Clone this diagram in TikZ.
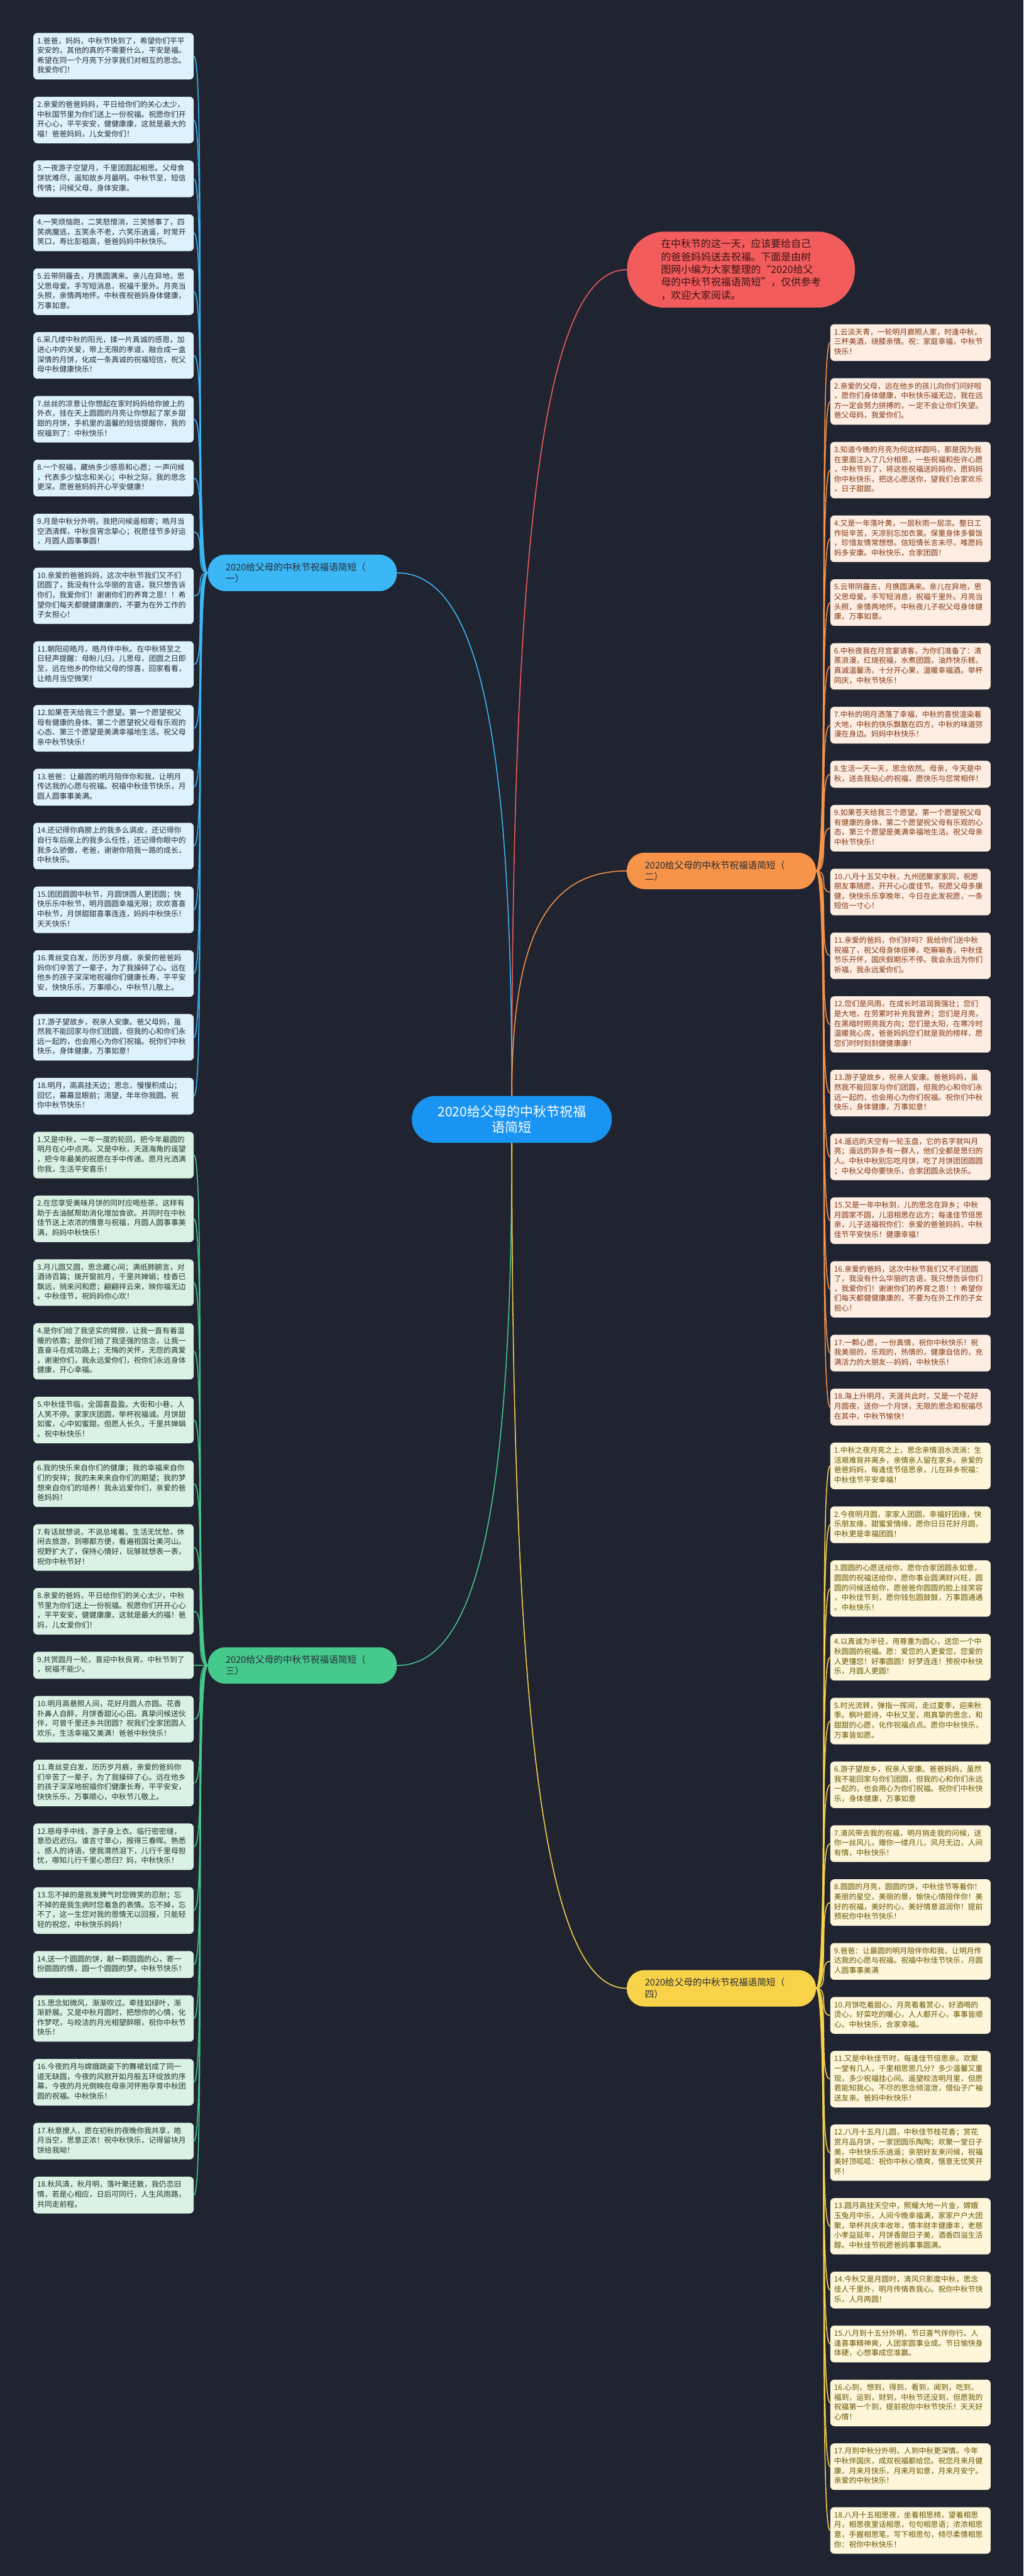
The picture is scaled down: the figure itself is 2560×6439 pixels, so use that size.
\documentclass[tikz,border=0pt]{standalone}
\usepackage{fontspec}
\setmainfont{Noto Sans CJK SC}
\usetikzlibrary{positioning,calc}
\definecolor{bgc}{RGB}{32,36,48}
\definecolor{cblue}{RGB}{26,148,242}
\definecolor{bluebr}{RGB}{60,183,246}
\definecolor{blueleaf}{RGB}{221,242,252}
\definecolor{bluetext}{RGB}{40,44,52}
\definecolor{cred}{RGB}{242,92,92}
\definecolor{redtext}{RGB}{60,20,20}
\definecolor{corange}{RGB}{247,148,74}
\definecolor{orleaf}{RGB}{253,237,227}
\definecolor{ortext}{RGB}{130,56,18}
\definecolor{cgreen}{RGB}{70,201,140}
\definecolor{grleaf}{RGB}{218,242,230}
\definecolor{grtext}{RGB}{36,52,44}
\definecolor{cyellow}{RGB}{248,211,74}
\definecolor{yeleaf}{RGB}{253,246,219}
\definecolor{yetext}{RGB}{105,86,0}
\definecolor{brtext}{RGB}{40,44,52}
\newcommand{\lftxt}[1]{\strut#1\strut}
\tikzset{
  leaf/.style={rounded corners=5pt, text width=191pt, inner xsep=4.75pt, inner ysep=4.575pt,
    align=left, font=\fontsize{9.3pt}{12.25pt}\selectfont},
  leafA/.style={leaf, fill=blueleaf, text=bluetext},
  leafB/.style={leaf, fill=orleaf, text=ortext},
  leafC/.style={leaf, fill=grleaf, text=grtext},
  leafD/.style={leaf, fill=yeleaf, text=yetext},
  branch/.style={rounded corners=22pt, text width=191.5pt, inner xsep=22.5pt, inner ysep=8.25pt,
    align=left, text=brtext, font=\fontsize{11.5pt}{14.5pt}\selectfont, minimum height=45.5pt},
  lnA/.style={bluebr, line width=1.2pt},
  lnB/.style={corange, line width=1.2pt},
  lnC/.style={cgreen, line width=1.2pt},
  lnD/.style={cyellow, line width=1.2pt},
  lnR/.style={cred, line width=1.2pt},
}
\begin{document}
\begin{tikzpicture}[x=0.5pt,y=-0.5pt]
\path[use as bounding box, fill=bgc] (0,0) rectangle (2560,6439);

% centre and main branches
\node[rounded corners=29pt, fill=cblue, text=white, minimum width=250pt, minimum height=58.5pt,
  align=center, font=\fontsize{16.5pt}{19pt}\selectfont] (C) at (1280,2798) {2020给父母的中秋节祝福\\语简短};
\node[rounded corners=47pt, fill=cred, text=redtext, minimum width=285pt, minimum height=95pt,
  align=left, font=\fontsize{12.5pt}{16pt}\selectfont] (R) at (1853,674)
  {在中秋节的这一天，应该要给自己\\的爸爸妈妈送去祝福。下面是由树\\图网小编为大家整理的“2020给父\\母的中秋节祝福语简短”，仅供参考\\，欢迎大家阅读。};
\node[branch, fill=bluebr] (BA) at (756,1432) {2020给父母的中秋节祝福语简短（\\一）};
\node[branch, fill=corange] (BB) at (1804,2177) {2020给父母的中秋节祝福语简短（\\二）};
\node[branch, fill=cgreen] (BC) at (756,4163) {2020给父母的中秋节祝福语简短（\\三）};
\node[branch, fill=cyellow] (BD) at (1804,4970) {2020给父母的中秋节祝福语简短（\\四）};

% ---------- left column: (一)
\node[leafA, anchor=north west] (a1) at (83,82) {\lftxt{1.爸爸，妈妈，中秋节快到了，希望你们平平\\安安的，其他的真的不需要什么，平安是福。\\希望在同一个月亮下分享我们对相互的思念。\\我爱你们！}};
\node[leafA, below=21.15pt of a1] (a2) {\lftxt{2.亲爱的爸爸妈妈，平日给你们的关心太少，\\中秋国节里为你们送上一份祝福。祝愿你们开\\开心心，平平安安，健健康康，这就是最大的\\福！爸爸妈妈，儿女爱你们！}};
\node[leafA, below=21.15pt of a2] (a3) {\lftxt{3.一夜游子空望月，千里团圆起相思。父母食\\饼犹难尽，遥知故乡月最明。中秋节至，短信\\传情；问候父母，身体安康。}};
\node[leafA, below=21.15pt of a3] (a4) {\lftxt{4.一笑烦恼跑，二笑怒憎消，三笑憾事了，四\\笑病魔逃，五笑永不老，六笑乐逍遥，时常开\\笑口，寿比彭祖高，爸爸妈妈中秋快乐。}};
\node[leafA, below=21.15pt of a4] (a5) {\lftxt{5.云带阴霾去，月携圆满来。亲儿在异地，思\\父思母爱。手写短消息，祝福千里外。月亮当\\头照，亲情两地怀。中秋夜祝爸妈身体健康，\\万事如意。}};
\node[leafA, below=21.15pt of a5] (a6) {\lftxt{6.采几缕中秋的阳光，揉一片真诚的感恩，加\\进心中的关爱，带上无限的孝道，融合成一盒\\深情的月饼，化成一条真诚的祝福短信，祝父\\母中秋健康快乐！}};
\node[leafA, below=21.15pt of a6] (a7) {\lftxt{7.丝丝的凉意让你想起在家时妈妈给你披上的\\外衣，挂在天上圆圆的月亮让你想起了家乡甜\\甜的月饼，手机里的温馨的短信提醒你，我的\\祝福到了：中秋快乐！}};
\node[leafA, below=21.15pt of a7] (a8) {\lftxt{8.一个祝福，藏纳多少感恩和心愿；一声问候\\，代表多少惦念和关心；中秋之际，我的思念\\更深。愿爸爸妈妈开心平安健康！}};
\node[leafA, below=21.15pt of a8] (a9) {\lftxt{9.月是中秋分外明，我把问候遥相寄；皓月当\\空洒清辉，中秋良宵念挚心；祝愿佳节多好运\\，月圆人圆事事圆！}};
\node[leafA, below=21.15pt of a9] (a10) {\lftxt{10.亲爱的爸爸妈妈，这次中秋节我们又不们\\团圆了，我没有什么华丽的言语，我只想告诉\\你们，我爱你们！谢谢你们的养育之恩！！希\\望你们每天都健健康康的，不要为在外工作的\\子女担心！}};
\node[leafA, below=21.15pt of a10] (a11) {\lftxt{11.朝阳迎皓月，皓月伴中秋。在中秋将至之\\日轻声提醒：母盼儿归，儿思母，团圆之日即\\至，远在他乡的你给父母的惊喜，回家看看，\\让皓月当空微笑！}};
\node[leafA, below=21.15pt of a11] (a12) {\lftxt{12.如果苍天给我三个愿望。第一个愿望祝父\\母有健康的身体、第二个愿望祝父母有乐观的\\心态、第三个愿望是美满幸福地生活。祝父母\\亲中秋节快乐！}};
\node[leafA, below=21.15pt of a12] (a13) {\lftxt{13.爸爸：让最圆的明月陪伴你和我，让明月\\传达我的心愿与祝福。祝福中秋佳节快乐，月\\圆人圆事事美满。}};
\node[leafA, below=21.15pt of a13] (a14) {\lftxt{14.还记得你肩膀上的我多么调皮，还记得你\\自行车后座上的我多么任性，还记得你眼中的\\我多么骄傲，老爸，谢谢你陪我一路的成长，\\中秋快乐。}};
\node[leafA, below=21.15pt of a14] (a15) {\lftxt{15.团团圆圆中秋节，月圆饼圆人更团圆；快\\快乐乐中秋节，明月圆圆幸福无限；欢欢喜喜\\中秋节，月饼甜甜喜事连连，妈妈中秋快乐！\\天天快乐！}};
\node[leafA, below=21.15pt of a15] (a16) {\lftxt{16.青丝变白发，历历岁月痕，亲爱的爸爸妈\\妈你们辛苦了一辈子，为了我操碎了心。远在\\他乡的孩子深深地祝福你们健康长寿，平平安\\安，快快乐乐，万事顺心，中秋节儿敬上。}};
\node[leafA, below=21.15pt of a16] (a17) {\lftxt{17.游子望故乡，祝亲人安康。爸父母妈，虽\\然我不能回家与你们团圆，但我的心和你们永\\远一起的，也会用心为你们祝福。祝你们中秋\\快乐，身体健康，万事如意！}};
\node[leafA, below=21.15pt of a17] (a18) {\lftxt{18.明月，高高挂天边；思念，慢慢积成山；\\回忆，幕幕显眼前；渴望，年年你我圆。祝\\你中秋节快乐！}};

% ---------- left column: (三)
\node[leafC, below=21.15pt of a18] (c1) {\lftxt{1.又是中秋，一年一度的轮回，把今年最圆的\\明月在心中点亮。又是中秋，天涯海角的遥望\\，把今年最美的祝愿在手中传递。愿月光洒满\\你我，生活平安喜乐！}};
\node[leafC, below=21.15pt of c1] (c2) {\lftxt{2.在您享受美味月饼的同时应喝些茶，这样有\\助于去油腻帮助消化增加食欲。并同时在中秋\\佳节送上浓浓的情意与祝福，月圆人圆事事美\\满，妈妈中秋快乐！}};
\node[leafC, below=21.15pt of c2] (c3) {\lftxt{3.月儿圆又圆，思念藏心间；满纸肺腑言，对\\酒诗百篇；拨开窗前月，千里共婵娟；桂香已\\飘远，捎来问和愿；翩翩祥云来，映你福无边\\。中秋佳节，祝妈妈你心欢！}};
\node[leafC, below=21.15pt of c3] (c4) {\lftxt{4.是你们给了我坚实的臂膀，让我一直有着温\\暖的依靠；是你们给了我坚强的信念，让我一\\直奋斗在成功路上；无悔的关怀，无怨的真爱\\，谢谢你们，我永远爱你们，祝你们永远身体\\健康，开心幸福。}};
\node[leafC, below=21.15pt of c4] (c5) {\lftxt{5.中秋佳节临，全国喜盈盈。大街和小巷，人\\人笑不停。家家庆团圆，举杯祝福诚。月饼甜\\如蜜，心中如蜜甜。但愿人长久，千里共婵娟\\。祝中秋快乐！}};
\node[leafC, below=21.15pt of c5] (c6) {\lftxt{6.我的快乐来自你们的健康；我的幸福来自你\\们的安祥；我的未来来自你们的期望；我的梦\\想来自你们的培养！我永远爱你们，亲爱的爸\\爸妈妈！}};
\node[leafC, below=21.15pt of c6] (c7) {\lftxt{7.有话就想说，不说总堵着。生活无忧愁，休\\闲去旅游，到哪都方便，看遍祖国壮美河山。\\视野扩大了，保持心情好，玩够就想表一表，\\祝你中秋节好！}};
\node[leafC, below=21.15pt of c7] (c8) {\lftxt{8.亲爱的爸妈，平日给你们的关心太少，中秋\\节里为你们送上一份祝福。祝愿你们开开心心\\，平平安安，健健康康，这就是最大的福！爸\\妈，儿女爱你们！}};
\node[leafC, below=21.15pt of c8] (c9) {\lftxt{9.共赏圆月一轮，喜迎中秋良宵。中秋节到了\\，祝福不能少。}};
\node[leafC, below=21.15pt of c9] (c10) {\lftxt{10.明月高悬照人间，花好月圆人亦圆。花香\\扑鼻人自醉，月饼香甜沁心田。真挚问候送伙\\伴，可曾千里还乡共团圆？祝我们全家团圆人\\欢乐，生活幸福又美满！爸爸中秋快乐！}};
\node[leafC, below=21.15pt of c10] (c11) {\lftxt{11.青丝变白发，历历岁月痕，亲爱的爸妈你\\们辛苦了一辈子，为了我操碎了心。远在他乡\\的孩子深深地祝福你们健康长寿，平平安安，\\快快乐乐，万事顺心，中秋节儿敬上。}};
\node[leafC, below=21.15pt of c11] (c12) {\lftxt{12.慈母手中线，游子身上衣。临行密密缝，\\意恐迟迟归。谁言寸草心，报得三春晖。熟悉\\、感人的诗语，使我潸然泪下，儿行千里母担\\忧，哪知儿行千里心思归？妈，中秋快乐！}};
\node[leafC, below=21.15pt of c12] (c13) {\lftxt{13.忘不掉的是我发脾气时您微笑的忍耐；忘\\不掉的是我生病时您着急的表情。忘不掉，忘\\不了，这一生您对我的恩情无以回报，只能轻\\轻的祝您，中秋快乐妈妈！}};
\node[leafC, below=21.15pt of c13] (c14) {\lftxt{14.送一个圆圆的饼，献一颗圆圆的心，寄一\\份圆圆的情，圆一个圆圆的梦。中秋节快乐！}};
\node[leafC, below=21.15pt of c14] (c15) {\lftxt{15.思念如微风，渐渐吹过。牵挂如绿叶，渐\\渐舒展。又是中秋月圆时，把想你的心情，化\\作梦呓，与皎洁的月光相望醉眼，祝你中秋节\\快乐！}};
\node[leafC, below=21.15pt of c15] (c16) {\lftxt{16.今夜的月与嫦娥跳姿下的舞裙划成了同一\\道无缺圆，今夜的风掀开如月般五环绽放的序\\幕，今夜的月光倒映在母亲河怀抱孕育中秋团\\圆的祝福。中秋快乐！}};
\node[leafC, below=21.15pt of c16] (c17) {\lftxt{17.秋意撩人，愿在初秋的夜晚你我共享，皓\\月当空，思意正浓！祝中秋快乐，记得留块月\\饼给我呦！}};
\node[leafC, below=21.15pt of c17] (c18) {\lftxt{18.秋风清，秋月明，落叶聚还散，我仍恋旧\\情，若是心相应，日后可同行，人生风雨路，\\共同走前程。}};

% ---------- right column: (二)
\node[leafB, anchor=north west] (b1) at (2076,810) {\lftxt{1.云淡天青，一轮明月廊照人家，时逢中秋，\\三杯美酒，绕膝亲情。祝：家庭幸福，中秋节\\快乐！}};
\node[leafB, below=21.15pt of b1] (b2) {\lftxt{2.亲爱的父母，远在他乡的孩儿向你们问好啦\\，愿你们身体健康，中秋快乐福无边，我在远\\方一定会努力拼搏的，一定不会让你们失望。\\爸父母妈，我爱你们。}};
\node[leafB, below=21.15pt of b2] (b3) {\lftxt{3.知道今晚的月亮为何这样圆吗，那是因为我\\在里面注入了几分相思，一些祝福和些许心愿\\，中秋节到了，将这些祝福送妈妈你，愿妈妈\\你中秋快乐，把这心愿送你，望我们合家欢乐\\，日子甜甜。}};
\node[leafB, below=21.15pt of b3] (b4) {\lftxt{4.又是一年落叶黄，一层秋雨一层凉。整日工\\作挺辛苦，天凉别忘加衣裳。保重身体多餐饭\\，珍惜友情常想想。信短情长言未尽，唯愿妈\\妈多安康。中秋快乐，合家团圆！}};
\node[leafB, below=21.15pt of b4] (b5) {\lftxt{5.云带阴霾去，月携圆满来。亲儿在异地，思\\父思母爱。手写短消息，祝福千里外。月亮当\\头照，亲情两地怀。中秋夜儿子祝父母身体健\\康，万事如意。}};
\node[leafB, below=21.15pt of b5] (b6) {\lftxt{6.中秋夜我在月宫宴请客，为你们准备了：清\\蒸浪漫，红烧祝福，水煮团圆，油炸快乐糕，\\真诚温馨汤，十分开心果，温暖幸福酒。举杯\\同庆，中秋节快乐！}};
\node[leafB, below=21.15pt of b6] (b7) {\lftxt{7.中秋的明月洒落了幸福，中秋的喜悦渲染着\\大地，中秋的快乐飘散在四方，中秋的味道弥\\漫在身边。妈妈中秋快乐！}};
\node[leafB, below=21.15pt of b7] (b8) {\lftxt{8.生活一天一天，思念依然。母亲，今天是中\\秋，送去我贴心的祝福，愿快乐与您常相伴！}};
\node[leafB, below=21.15pt of b8] (b9) {\lftxt{9.如果苍天给我三个愿望。第一个愿望祝父母\\有健康的身体，第二个愿望祝父母有乐观的心\\态，第三个愿望是美满幸福地生活。祝父母亲\\中秋节快乐！}};
\node[leafB, below=21.15pt of b9] (b10) {\lftxt{10.八月十五又中秋，九州团聚家家同，祝愿\\朋友事随愿，开开心心度佳节。祝愿父母多康\\健，快快乐乐享晚年，今日在此发祝愿，一条\\短信一寸心！}};
\node[leafB, below=21.15pt of b10] (b11) {\lftxt{11.亲爱的爸妈，你们好吗？我给你们送中秋\\祝福了，祝父母身体倍棒，吃嘛嘛香，中秋佳\\节乐开怀，国庆假期乐不停。我会永远为你们\\祈福，我永远爱你们。}};
\node[leafB, below=21.15pt of b11] (b12) {\lftxt{12.您们是风雨，在成长时滋润我强壮；您们\\是大地，在劳累时补充我营养；您们是月亮，\\在黑暗时照亮我方向；您们是太阳，在寒冷时\\温暖我心房，爸爸妈妈您们就是我的榜样，愿\\您们时时刻刻健健康康！}};
\node[leafB, below=21.15pt of b12] (b13) {\lftxt{13.游子望故乡，祝亲人安康。爸爸妈妈，虽\\然我不能回家与你们团圆，但我的心和你们永\\远一起的，也会用心为你们祝福。祝你们中秋\\快乐，身体健康，万事如意！}};
\node[leafB, below=21.15pt of b13] (b14) {\lftxt{14.遥远的天空有一轮玉盘，它的名字就叫月\\亮；遥远的异乡有一群人，他们全都是思归的\\人。中秋中秋别忘吃月饼，吃了月饼团团圆圆\\；中秋父母你要快乐，合家团圆永远快乐。}};
\node[leafB, below=21.15pt of b14] (b15) {\lftxt{15.又是一年中秋到，儿的思念在异乡；中秋\\月圆家不圆，儿泪相思在远方；每逢佳节倍思\\亲，儿子送福祝你们：亲爱的爸爸妈妈，中秋\\佳节平安快乐！健康幸福！}};
\node[leafB, below=21.15pt of b15] (b16) {\lftxt{16.亲爱的爸妈，这次中秋节我们又不们团圆\\了，我没有什么华丽的言语，我只想告诉你们\\，我爱你们！谢谢你们的养育之恩！！希望你\\们每天都健健康康的，不要为在外工作的子女\\担心！}};
\node[leafB, below=21.15pt of b16] (b17) {\lftxt{17.一颗心愿，一份真情，祝你中秋快乐！祝\\我美丽的，乐观的，热情的，健康自信的，充\\满活力的大朋友-{}-{}-妈妈，中秋快乐！}};
\node[leafB, below=21.15pt of b17] (b18) {\lftxt{18.海上升明月，天涯共此时，又是一个花好\\月圆夜，送你一个月饼，无限的思念和祝福尽\\在其中，中秋节愉快！}};

% ---------- right column: (四)
\node[leafD, below=21.15pt of b18] (d1) {\lftxt{1.中秋之夜月亮之上，思念亲情泪水流淌：生\\活艰难背井离乡，亲情亲人留在家乡。亲爱的\\爸爸妈妈，每逢佳节倍思亲，儿在异乡祝福：\\中秋佳节平安幸福！}};
\node[leafD, below=21.15pt of d1] (d2) {\lftxt{2.今夜明月圆，家家人团圆，幸福好因缘，快\\乐朋友缘，甜蜜爱情缘，愿你日日花好月圆，\\中秋更是幸福团圆！}};
\node[leafD, below=21.15pt of d2] (d3) {\lftxt{3.圆圆的心愿送给你，愿你合家团圆永如意，\\圆圆的祝福送给你，愿你事业圆满财兴旺，圆\\圆的问候送给你，愿爸爸你圆圆的脸上挂笑容\\，中秋佳节到，愿你钱包圆鼓鼓，万事圆通通\\。中秋快乐！}};
\node[leafD, below=21.15pt of d3] (d4) {\lftxt{4.以真诚为半径，用尊重为圆心，送您一个中\\秋圆圆的祝福。愿：爱您的人更爱您，您爱的\\人更懂您！好事圆圆！好梦连连！预祝中秋快\\乐，月圆人更圆！}};
\node[leafD, below=21.15pt of d4] (d5) {\lftxt{5.时光流转，弹指一挥间，走过夏季，迎来秋\\季。枫叶题诗，中秋又至，用真挚的思念，和\\甜甜的心愿，化作祝福点点。愿你中秋快乐，\\万事皆如愿。}};
\node[leafD, below=21.15pt of d5] (d6) {\lftxt{6.游子望故乡，祝亲人安康。爸爸妈妈，虽然\\我不能回家与你们团圆，但我的心和你们永远\\一起的，也会用心为你们祝福。祝你们中秋快\\乐，身体健康，万事如意}};
\node[leafD, below=21.15pt of d6] (d7) {\lftxt{7.清风带去我的祝福，明月捎走我的问候，送\\你一丝风儿，赠你一缕月儿，风月无边，人间\\有情，中秋快乐！}};
\node[leafD, below=21.15pt of d7] (d8) {\lftxt{8.圆圆的月亮，圆圆的饼，中秋佳节等着你！\\美丽的星空，美丽的景，愉快心情陪伴你！美\\好的祝福，美好的心，美好情意滋润你！提前\\预祝你中秋节快乐！}};
\node[leafD, below=21.15pt of d8] (d9) {\lftxt{9.爸爸：让最圆的明月陪伴你和我，让明月传\\达我的心愿与祝福。祝福中秋佳节快乐，月圆\\人圆事事美满}};
\node[leafD, below=21.15pt of d9] (d10) {\lftxt{10.月饼吃着甜心，月亮看着赏心，好酒喝的\\烫心，好菜吃的暖心，人人都开心，事事皆顺\\心。中秋快乐，合家幸福。}};
\node[leafD, below=21.15pt of d10] (d11) {\lftxt{11.又是中秋佳节时，每逢佳节倍思亲。欢聚\\一堂有几人，千里相思思几分？多少温馨又重\\现，多少祝福挂心间。遥望皎洁明月里，但愿\\君能知我心。不尽的思念倾渲泄，借仙子广袖\\送友亲。爸妈中秋快乐！}};
\node[leafD, below=21.15pt of d11] (d12) {\lftxt{12.八月十五月儿圆，中秋佳节桂花香；赏花\\赏月品月饼，一家团圆乐陶陶；欢聚一堂日子\\美，中秋快乐乐逍遥；亲朋好友来问候，祝福\\美好顶呱呱：祝你中秋心情爽，惬意无忧笑开\\怀！}};
\node[leafD, below=21.15pt of d12] (d13) {\lftxt{13.圆月高挂天空中，照耀大地一片金，嫦娥\\玉兔月中乐，人间今晚幸福满，家家户户大团\\聚，举杯共庆丰收年，情丰财丰健康丰，老慈\\小孝益延年，月饼香甜日子美，酒香四溢生活\\醇。中秋佳节祝愿爸妈事事圆满。}};
\node[leafD, below=21.15pt of d13] (d14) {\lftxt{14.今秋又是月圆时，清风只影度中秋，思念\\佳人千里外，明月传情表我心。祝你中秋节快\\乐，人月两圆！}};
\node[leafD, below=21.15pt of d14] (d15) {\lftxt{15.八月到十五分外明，节日喜气伴你行。人\\逢喜事精神爽，人团家圆事业成。节日愉快身\\体硬，心想事成您准赢。}};
\node[leafD, below=21.15pt of d15] (d16) {\lftxt{16.心到，想到，得到，看到，闻到，吃到，\\福到，运到，财到，中秋节还没到，但愿我的\\祝福第一个到，提前祝你中秋节快乐！天天好\\心情！}};
\node[leafD, below=21.15pt of d16] (d17) {\lftxt{17.月到中秋分外明，人到中秋更深情。今年\\中秋伴国庆，成双祝福都给您。祝您月来月健\\康，月来月快乐，月来月如意，月来月安宁。\\亲爱的中秋快乐！}};
\node[leafD, below=21.15pt of d17] (d18) {\lftxt{18.八月十五相思夜，坐着相思椅，望着相思\\月，相思夜里话相思，句句相思语；浓浓相思\\意，手握相思笔，写下相思句，倾尽柔情相思\\你：祝你中秋快乐！}};

% ---------- main connectors
\draw[lnR] (C.north) .. controls ($(C.north)!0.7!(C.north|-R.west)$) and ($(R.west)!0.7!(C.north|-R.west)$) .. (R.west);
\draw[lnA] (C.north) .. controls ($(C.north)!0.7!(C.north|-BA.east)$) and ($(BA.east)!0.7!(C.north|-BA.east)$) .. (BA.east);
\draw[lnB] (C.north) .. controls ($(C.north)!0.7!(C.north|-BB.west)$) and ($(BB.west)!0.7!(C.north|-BB.west)$) .. (BB.west);
\draw[lnC] (C.south) .. controls ($(C.south)!0.7!(C.south|-BC.east)$) and ($(BC.east)!0.7!(C.south|-BC.east)$) .. (BC.east);
\draw[lnD] (C.south) .. controls ($(C.south)!0.7!(C.south|-BD.west)$) and ($(BD.west)!0.7!(C.south|-BD.west)$) .. (BD.west);

% ---------- leaf connectors
\foreach \i in {1,...,18}{
  \draw[lnA] (BA.west) .. controls +(-34,0) and +(30,0) .. (a\i.east);
  \draw[lnC] (BC.west) .. controls +(-34,0) and +(30,0) .. (c\i.east);
  \draw[lnB] (BB.east) .. controls +(34,0) and +(-30,0) .. (b\i.west);
  \draw[lnD] (BD.east) .. controls +(34,0) and +(-30,0) .. (d\i.west);
}
\end{tikzpicture}
\end{document}
